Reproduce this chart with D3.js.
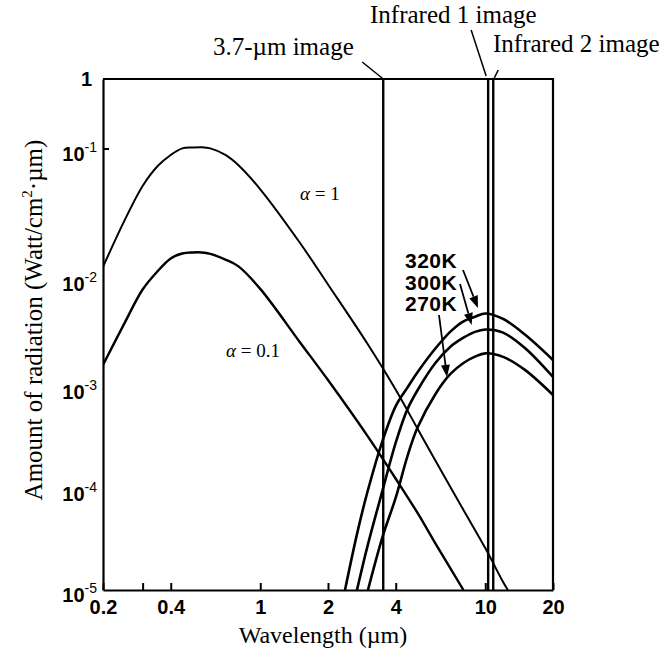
<!DOCTYPE html>
<html><head><meta charset="utf-8">
<script src="https://cdn.jsdelivr.net/npm/d3@7/dist/d3.min.js"></script>
<style>body{margin:0;background:#fff} svg{display:block}</style>
</head><body>
<svg id="c" width="671" height="655"></svg>
<script>
// ---- data ----
const wlAlpha1  = [0.2,0.25,0.3,0.35,0.4,0.45,0.5,0.55,0.6,0.7,0.8,1,1.5,2,3,4,5,6,8,10,12,12.6];
const valAlpha1 = [1.24e-2,2.85e-2,5.2e-2,7.4e-2,9.0e-2,1.02e-1,1.05e-1,1.06e-1,1.02e-1,9.0e-2,7.5e-2,4.9e-2,1.9e-2,8.9e-3,2.5e-3,9.4e-4,3.9e-4,1.9e-4,6.2e-5,2.6e-5,1.2e-5,1.0e-5];
const wlAlpha01  = [0.2,0.25,0.3,0.35,0.4,0.45,0.5,0.55,0.6,0.7,0.8,1,1.5,2,3,4,5,6,8];
const valAlpha01 = [1.6e-3,3.95e-3,8.0e-3,1.15e-2,1.44e-2,1.57e-2,1.6e-2,1.6e-2,1.56e-2,1.41e-2,1.25e-2,8.1e-3,2.6e-3,1.16e-3,3.3e-4,1.26e-4,5.8e-5,2.9e-5,1.0e-5];
const wl320  = [2.38,2.7,3,3.5,4,4.5,5,6,7,8,9,10,12,15,20];
const val320 = [1.0e-5,3.7e-5,9.5e-5,3.0e-4,6.5e-4,9.8e-4,1.37e-3,2.27e-3,3.26e-3,4.06e-3,4.47e-3,4.8e-3,4.27e-3,3.06e-3,1.78e-3];
const wl300  = [2.69,3,3.5,4,4.5,5,6,7,8,9,10,12,15,20];
const val300 = [1.0e-5,2.75e-5,9.8e-5,2.85e-4,6.0e-4,9.3e-4,1.67e-3,2.36e-3,2.86e-3,3.24e-3,3.41e-3,3.19e-3,2.30e-3,1.24e-3];
const wl270  = [3.01,3.5,4,4.5,5,6,7,8,9,10,12,15,20];
const val270 = [1.0e-5,3.4e-5,8.2e-5,2.07e-4,4.0e-4,8.5e-4,1.32e-3,1.67e-3,1.91e-3,2.05e-3,1.9e-3,1.44e-3,8.35e-4];

const tempLabels = ["320K","300K","270K"];
const tempArrowWl  = [9.28, 8.7, 6.76];
const tempArrowVal = [5.4e-3, 3.75e-3, 1.24e-3];

const channelNames = ["3.7-\u00b5m image","Infrared 1 image","Infrared 2 image"];
const channelWl    = [3.52, 10.3, 10.85];

const xTickValues = [0.2,0.3,0.4,1,2,4,10,20];
const xTickLabels = ["0.2","","0.4","1","2","4","10","20"];
const yTickValues = [1,1e-1,1e-2,1e-3,1e-4,1e-5];
const yTickExps   = ["","-1","-2","-3","-4","-5"];

// ---- scales ----
const x = d3.scaleLog().domain([0.2,20]).range([103,553]);
const y = d3.scaleLog().domain([1e-5,1e-4,1e-3,1e-2,1e-1,1]).range([590,489,387,279,149,79]);

const svg = d3.select("#c");
const serif = "'Liberation Serif','Times New Roman',serif";
const sans = "'Liberation Sans',Arial,sans-serif";

svg.append("defs").append("clipPath").attr("id","plot")
  .append("rect").attr("x",103).attr("y",79).attr("width",450).attr("height",511);

// frame
svg.append("path")
  .attr("d", `M${x(0.2)},${y(1)}H${x(20)}V${y(1e-5)}`)
  .attr("fill","none").attr("stroke","#000").attr("stroke-width",2.2);

// x axis
const xAxis = d3.axisBottom(x).tickValues(xTickValues)
  .tickFormat((d,i)=>xTickLabels[i]).tickSizeInner(-7).tickSizeOuter(0).tickPadding(10);
const gx = svg.append("g").attr("transform",`translate(0,${y(1e-5)})`).call(xAxis);
gx.select(".domain").attr("stroke-width",2.2);
gx.selectAll(".tick line").attr("stroke-width",2);
gx.selectAll("text").attr("font-family",sans).attr("font-weight","bold").attr("font-size",20).attr("fill","#000");

// y axis
const yAxis = d3.axisLeft(y).tickValues(yTickValues).tickFormat(()=> "")
  .tickSizeInner(0).tickSizeOuter(0).tickPadding(4);
const gy = svg.append("g").attr("transform",`translate(${x(0.2)},0)`).call(yAxis);
gy.select(".domain").attr("stroke-width",2.2);
gy.selectAll(".tick text").each(function(d,i){
  const t = d3.select(this).attr("font-family",sans).attr("font-weight","bold")
    .attr("font-size",20).attr("fill","#000").attr("dy","0.55em").attr("x",-6);
  if (yTickExps[i]==="") { t.append("tspan").text("1"); t.attr("dy","0.3em").attr("x",-11); }
  else {
    t.append("tspan").text("10");
    t.append("tspan").attr("font-size",14).attr("font-weight","normal").attr("dy",-9).text(yTickExps[i]);
  }
});
// small tick at 10^-1
svg.append("line").attr("x1",x(0.2)).attr("x2",x(0.2)+6).attr("y1",y(0.1)).attr("y2",y(0.1))
  .attr("stroke","#000").attr("stroke-width",2);

// channel lines
channelWl.forEach(w=>{
  svg.append("line").attr("x1",x(w)).attr("x2",x(w)).attr("y1",y(1)).attr("y2",y(1e-5))
    .attr("stroke","#000").attr("stroke-width",2.4);
});

// curves
const line = d3.line().x(d=>x(d[0])).y(d=>y(d[1])).curve(d3.curveCatmullRom.alpha(0.5));
const series = [
  [wlAlpha1, valAlpha1, 2],
  [wlAlpha01, valAlpha01, 2.4],
  [wl320, val320, 2.6],
  [wl300, val300, 2.6],
  [wl270, val270, 2.6]
];
const gc = svg.append("g").attr("clip-path","url(#plot)");
series.forEach(([w,v,sw])=>{
  gc.append("path").datum(w.map((d,i)=>[d,v[i]])).attr("d",line)
    .attr("fill","none").attr("stroke","#000").attr("stroke-width",sw).attr("stroke-linejoin","round");
});

// alpha labels
function alphaLabel(px,py,txt){
  const t = svg.append("text").attr("x",px).attr("y",py).attr("font-family",serif).attr("font-size",19);
  t.append("tspan").attr("font-style","italic").text("\u03b1");
  t.append("tspan").text(" = "+txt);
}
alphaLabel(300,200,"1");
alphaLabel(226,357,"0.1");

// temperature labels and arrows
const labelY = [268, 290, 311];
const tailPts = [[463,270],[460,284],[439,315]];
tempLabels.forEach((lab,i)=>{
  svg.append("text").attr("x",405).attr("y",labelY[i]).attr("font-family",sans)
    .attr("font-weight","bold").attr("font-size",21).attr("letter-spacing",0.5).text(lab);
  const tx = x(tempArrowWl[i]), ty = y(tempArrowVal[i]);
  const [sx,sy] = tailPts[i];
  const ang = Math.atan2(ty-sy, tx-sx);
  const L = 12, W = 4.5;
  const bx = tx - L*Math.cos(ang), by = ty - L*Math.sin(ang);
  svg.append("line").attr("x1",sx).attr("y1",sy).attr("x2",bx).attr("y2",by)
    .attr("stroke","#000").attr("stroke-width",1.8);
  svg.append("path").attr("d",`M${tx},${ty}L${bx+W*Math.sin(ang)},${by-W*Math.cos(ang)}L${bx-W*Math.sin(ang)},${by+W*Math.cos(ang)}Z`)
    .attr("fill","#000");
});

// channel annotations
const annText = [[213,55],[370,23],[493,52]];
const leaders = [[-21,-17,0,0],[-17,-49,-2,-3],[5,-9,1,-1]];
channelNames.forEach((n,i)=>{
  svg.append("text").attr("x",annText[i][0]).attr("y",annText[i][1])
    .attr("font-family",serif).attr("font-size",25).text(n);
  const cx = x(channelWl[i]), cy = y(1);
  const L = leaders[i];
  svg.append("line").attr("x1",cx+L[0]).attr("y1",cy+L[1]).attr("x2",cx+L[2]).attr("y2",cy+L[3])
    .attr("stroke","#000").attr("stroke-width",1.5);
});

// axis titles
svg.append("text").attr("x",323).attr("y",643).attr("text-anchor","middle")
  .attr("font-family",serif).attr("font-size",24).text("Wavelength (\u00b5m)");
const yt = svg.append("text").attr("transform","translate(42,320) rotate(-90)").attr("text-anchor","middle")
  .attr("font-family",serif).attr("font-size",25);
yt.append("tspan").text("Amount of radiation (Watt/cm");
yt.append("tspan").attr("font-size",15).attr("dy",-10).text("2");
yt.append("tspan").attr("dy",10).text("\u00b7\u00b5m)");
</script>
</body></html>
